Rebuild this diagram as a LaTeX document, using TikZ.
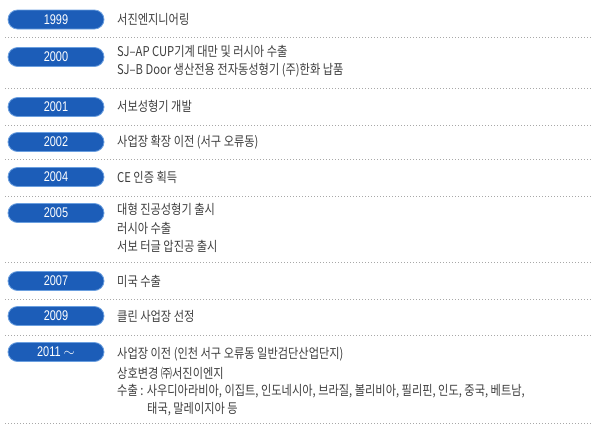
\documentclass[tikz,border=0pt]{standalone}
\usepackage{fontspec}
\setmainfont{Noto Sans CJK KR}
\newfontfamily\krfont[FakeStretch=0.83]{Noto Sans CJK KR}
\newfontfamily\yrfont[FakeStretch=0.78]{Liberation Sans}
\definecolor{pillblue}{HTML}{1C5DB8}
\definecolor{pillrim}{HTML}{6B9FDF}
\definecolor{txtgray}{HTML}{3E3E3E}
\definecolor{dotgray}{HTML}{A8A8A8}
\tikzset{
  pill/.style={rounded corners=9.5pt, fill=pillblue, draw=pillrim, line width=0.8pt,
    minimum width=96pt, minimum height=19pt, inner sep=0pt,
    text=white, font=\yrfont\fontsize{14}{14}\selectfont},
  item/.style={anchor=west, inner sep=0pt, text=txtgray, font=\krfont\fontsize{13.5}{13.5}\selectfont},
  sep/.style={dotgray, line width=0.8pt, dash pattern=on 0.8pt off 2.2pt}
}
\begin{document}
\begin{tikzpicture}[x=1pt,y=-1pt]
\useasboundingbox (0,0) rectangle (600,432);
% year pills
\node[pill] (y1999) at (56,19.5) {1999};
\node[pill] (y2000) at (56,57) {2000};
\node[pill] (y2001) at (56,107) {2001};
\node[pill] (y2002) at (56,142) {2002};
\node[pill] (y2004) at (56,177) {2004};
\node[pill] (y2005) at (56,213) {2005};
\node[pill] (y2007) at (56,281) {2007};
\node[pill] (y2009) at (56,316) {2009};
\node[pill] (y2011) at (56,352) {2011 \raisebox{0.5pt}{$\sim$}};
% texts
\node[item] (t1999) at (117,19) {서진엔지니어링};
\node[item] (t2000a) at (117,51) {SJ–AP CUP기계 대만 및 러시아 수출};
\node[item] (t2000b) at (117,70) {SJ–B Door 생산전용 전자동성형기 (주)한화 납품};
\node[item] (t2001) at (117,106) {서보성형기 개발};
\node[item] (t2002) at (117,142) {사업장 확장 이전 (서구 오류동)};
\node[item] (t2004) at (117,177) {CE 인증 획득};
\node[item] (t2005a) at (117,209) {대형 진공성형기 출시};
\node[item] (t2005b) at (117,228) {러시아 수출};
\node[item] (t2005c) at (117,246) {서보 터글 압진공 출시};
\node[item] (t2007) at (117,281) {미국 수출};
\node[item] (t2009) at (117,316) {클린 사업장 선정};
\node[item] (t2011a) at (117,354) {사업장 이전 (인천 서구 오류동 일반검단산업단지)};
\node[item] (t2011b) at (117,373) {상호변경 ㈜서진이엔지};
\node[item] (t2011c) at (117,391) {수출 : 사우디아라비아, 이집트, 인도네시아, 브라질, 볼리비아, 필리핀, 인도, 중국, 베트남,};
\node[item] (t2011d) at (147,409) {태국, 말레이지아 등};
% dotted separators
\foreach \yy in {37,88,125,159,196,262,299,335,423}
  \draw[sep] (5,\yy) -- (591,\yy);
\end{tikzpicture}
\end{document}
